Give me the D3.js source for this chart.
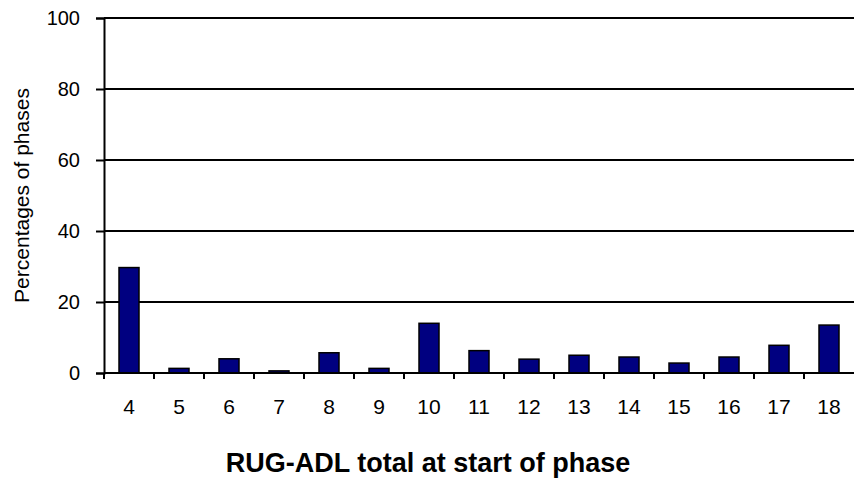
<!DOCTYPE html>
<html lang="en">
<head>
    <meta charset="UTF-8">
    <title>RUG-ADL total at start of phase</title>
    <style>
        body { margin: 0; background: #fff; overflow: hidden; }
        text { font-family: "Liberation Sans", Arial, sans-serif; fill: #000; }
    </style>
</head>
<body>
    <div id="container"></div>
    <script src="https://d3js.org/d3.v7.min.js"></script>
    <script>
        // Data.
        var categories = ["4", "5", "6", "7", "8", "9", "10", "11", "12", "13", "14", "15", "16", "17", "18"];
        var percentages = [29.7, 1.3, 4.0, 0.6, 5.7, 1.3, 14.0, 6.3, 3.9, 5.0, 4.5, 2.8, 4.5, 7.8, 13.5];
        var yTicks = [0, 20, 40, 60, 80, 100];

        var width = 854, height = 488;
        var margin = { top: 18, right: 0, bottom: 115, left: 104 };

        var svg = d3.select("#container")
            .append("svg")
            .attr("width", width)
            .attr("height", height);

        var x = d3.scaleBand()
            .domain(categories)
            .range([margin.left, width - margin.right])
            .paddingInner(0.6)
            .paddingOuter(0.3);

        var y = d3.scaleLinear()
            .domain([0, 100])
            .range([height - margin.bottom, margin.top]);

        // Horizontal gridlines.
        svg.append("g")
            .selectAll("line")
            .data(yTicks.slice(1))
            .enter()
            .append("line")
            .attr("x1", margin.left)
            .attr("x2", width - margin.right)
            .attr("y1", function (d) { return y(d); })
            .attr("y2", function (d) { return y(d); })
            .attr("stroke", "#000")
            .attr("stroke-width", 2);

        // Bars.
        svg.append("g")
            .selectAll("rect")
            .data(percentages)
            .enter()
            .append("rect")
            .attr("x", function (d, i) { return x(categories[i]); })
            .attr("y", function (d) { return y(d); })
            .attr("width", x.bandwidth())
            .attr("height", function (d) { return y(0) - y(d); })
            .attr("fill", "#000080")
            .attr("stroke", "#000")
            .attr("stroke-width", 1.5);

        // Y axis.
        var yAxis = svg.append("g")
            .attr("transform", "translate(" + margin.left + ",0)")
            .call(d3.axisLeft(y).tickValues(yTicks).tickSize(8).tickPadding(16));
        yAxis.selectAll("text").style("font-size", "20px");
        yAxis.select(".domain").attr("stroke-width", 2);
        yAxis.selectAll(".tick line").attr("stroke-width", 2);

        // X axis: ticks sit on the band boundaries.
        var step = x.step();
        var xAxis = svg.append("g")
            .attr("transform", "translate(0," + y(0) + ")");
        xAxis.append("line")
            .attr("x1", margin.left)
            .attr("x2", width - margin.right)
            .attr("stroke", "#000")
            .attr("stroke-width", 2);
        xAxis.selectAll("line.tick")
            .data(d3.range(categories.length))
            .enter()
            .append("line")
            .attr("class", "tick")
            .attr("x1", function (d) { return margin.left + d * step; })
            .attr("x2", function (d) { return margin.left + d * step; })
            .attr("y1", 0)
            .attr("y2", 6)
            .attr("stroke", "#000")
            .attr("stroke-width", 2);
        xAxis.selectAll("text")
            .data(categories)
            .enter()
            .append("text")
            .attr("x", function (d) { return x(d) + x.bandwidth() / 2; })
            .attr("y", 41)
            .attr("text-anchor", "middle")
            .style("font-size", "21px")
            .text(function (d) { return d; });

        // Axis titles.
        svg.append("text")
            .attr("x", 428)
            .attr("y", 472)
            .attr("text-anchor", "middle")
            .style("font-size", "27px")
            .style("font-weight", "bold")
            .text("RUG-ADL total at start of phase");

        svg.append("text")
            .attr("transform", "translate(29," + y(50) + ") rotate(-90)")
            .attr("text-anchor", "middle")
            .style("font-size", "21px")
            .text("Percentages of phases");
    </script>
</body>
</html>
